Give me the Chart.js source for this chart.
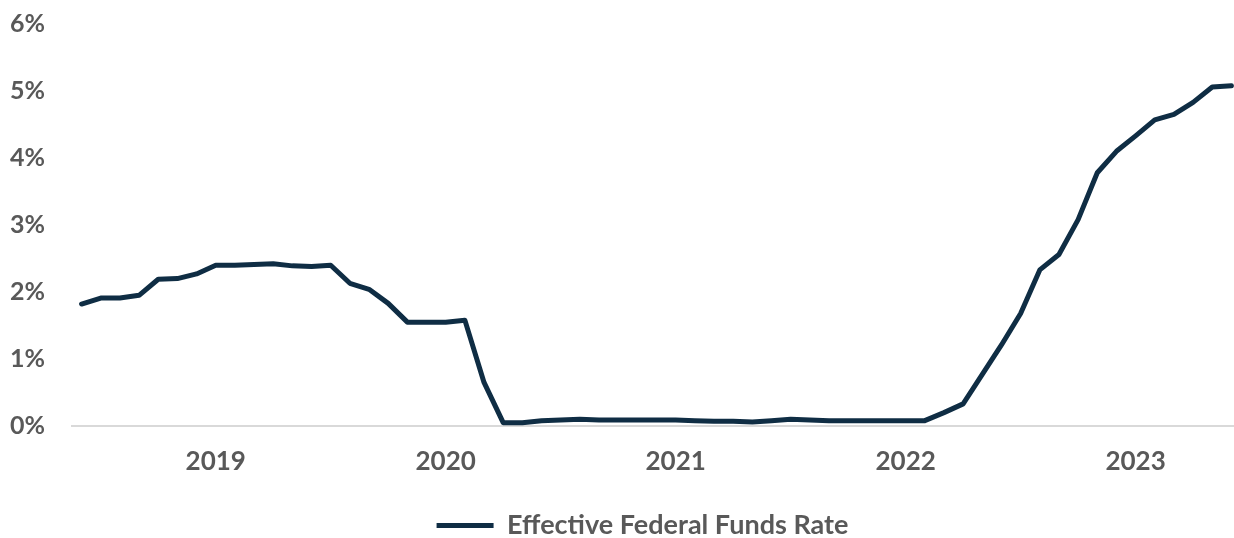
<!DOCTYPE html>
<html>
<head>
<meta charset="utf-8">
<script src="https://cdn.jsdelivr.net/npm/chart.js@4"></script>
<style>
  html, body { margin: 0; padding: 0; background: #ffffff; overflow: hidden; }
  canvas { display: block; }
</style>
</head>
<body>
<canvas id="c" width="1244" height="538" style="width:1244px;height:538px"></canvas>
<script>
// Monthly categories, Jun 2018 – Jun 2023
const months = [
  "2018-06","2018-07","2018-08","2018-09","2018-10","2018-11","2018-12",
  "2019-01","2019-02","2019-03","2019-04","2019-05","2019-06","2019-07","2019-08","2019-09","2019-10","2019-11","2019-12",
  "2020-01","2020-02","2020-03","2020-04","2020-05","2020-06","2020-07","2020-08","2020-09","2020-10","2020-11","2020-12",
  "2021-01","2021-02","2021-03","2021-04","2021-05","2021-06","2021-07","2021-08","2021-09","2021-10","2021-11","2021-12",
  "2022-01","2022-02","2022-03","2022-04","2022-05","2022-06","2022-07","2022-08","2022-09","2022-10","2022-11","2022-12",
  "2023-01","2023-02","2023-03","2023-04","2023-05","2023-06"
];
// Effective Federal Funds Rate (%)
const effr = [
  1.82, 1.91, 1.91, 1.95, 2.19, 2.20, 2.27,
  2.40, 2.40, 2.41, 2.42, 2.39, 2.38, 2.40, 2.13, 2.04, 1.83, 1.55, 1.55,
  1.55, 1.58, 0.65, 0.05, 0.05, 0.08, 0.09, 0.10, 0.09, 0.09, 0.09, 0.09,
  0.09, 0.08, 0.07, 0.07, 0.06, 0.08, 0.10, 0.09, 0.08, 0.08, 0.08, 0.08,
  0.08, 0.08, 0.20, 0.33, 0.77, 1.21, 1.68, 2.33, 2.56, 3.08, 3.78, 4.10,
  4.33, 4.57, 4.65, 4.83, 5.06, 5.08
];
const seriesName = "Effective Federal Funds Rate";
const yTicks = [0, 1, 2, 3, 4, 5, 6];

const lineColor = "#0f2d44";
const textColor = "#595959";
const fontFamily = "Lato, 'Open Sans', sans-serif";

const shiftLegend = {
  id: "shiftLegend",
  afterLayout(chart) {
    const lg = chart.legend;
    if (lg) {
      lg.left += 17; lg.right += 17;
      lg.top += 11; lg.bottom += 11;
    }
  }
};

new Chart(document.getElementById("c"), {
  type: "line",
  data: {
    labels: months,
    datasets: [{
      label: seriesName,
      data: effr,
      borderColor: lineColor,
      backgroundColor: lineColor,
      borderWidth: 5,
      pointRadius: 0,
      tension: 0,
      borderJoinStyle: "round",
      borderCapStyle: "round"
    }]
  },
  plugins: [shiftLegend],
  options: {
    responsive: false,
    animation: false,
    layout: { padding: { top: 24, right: 3, left: 10, bottom: 0 } },
    scales: {
      x: {
        type: "category",
        offset: true,
        grid: { display: false, drawTicks: false },
        border: { display: true, color: "#d9d9d9", width: 2 },
        ticks: {
          autoSkip: false,
          maxRotation: 0,
          padding: 20,
          color: textColor,
          font: { family: fontFamily, size: 26, weight: "bold" },
          callback: function (v, i) {
            const s = months[i];
            return s.endsWith("-01") ? s.slice(0, 4) : "";
          }
        },
        afterFit: function (s) { s.height = 73; s.paddingLeft = 0; s.paddingRight = 0; }
      },
      y: {
        min: 0,
        max: 6,
        afterBuildTicks: function (s) { s.ticks = yTicks.map(v => ({ value: v })); },
        grid: { display: false, drawTicks: false },
        border: { display: false },
        ticks: {
          padding: 0,
          crossAlign: "far",
          color: textColor,
          font: { family: fontFamily, size: 25, weight: "bold" },
          callback: function (v) { return v + "%"; }
        },
        afterFit: function (s) { s.width = 62; s.paddingTop = 0; s.paddingBottom = 0; }
      }
    },
    plugins: {
      tooltip: { enabled: false },
      legend: {
        display: true,
        position: "bottom",
        labels: {
          color: textColor,
          font: { family: fontFamily, size: 27, weight: "bold" },
          boxWidth: 57,
          boxHeight: 5,
          padding: 2,
          generateLabels: function (chart) {
            return chart.data.datasets.map((d, i) => ({
              text: d.label,
              fillStyle: lineColor,
              strokeStyle: lineColor,
              lineWidth: 0,
              fontColor: textColor,
              datasetIndex: i
            }));
          }
        }
      }
    }
  }
});
</script>
</body>
</html>
